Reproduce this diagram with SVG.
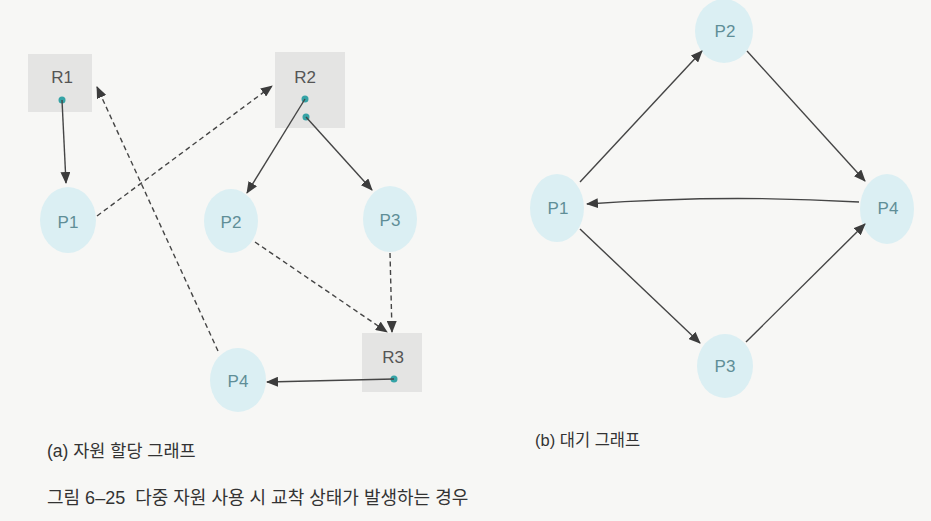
<svg xmlns="http://www.w3.org/2000/svg" width="931" height="521" viewBox="0 0 931 521">
<style>
.bg{fill:#f7f7f5}
.res{fill:#e4e4e3}
.proc{fill:#dbeff3}
.dot{fill:#35a3a6}
.rl{font-family:"Liberation Sans",Arial,sans-serif;font-size:17px;fill:#555;text-anchor:middle}
.pl{font-family:"Liberation Sans",Arial,sans-serif;font-size:17px;fill:#5f8e97;text-anchor:middle}
.cap{font-family:"Liberation Sans","Noto Sans CJK KR",sans-serif;font-size:17px;fill:#333}
.e{stroke:#454545;stroke-width:1.4;fill:none;marker-end:url(#ah)}
.d{stroke-dasharray:5,3.5}
</style>
<defs>
<marker id="ah" markerWidth="12" markerHeight="10" refX="11" refY="5" orient="auto" markerUnits="userSpaceOnUse">
<path d="M0,0 L12,5 L0,10 z" fill="#3c3c3c"/>
</marker>
</defs>
<rect class="bg" x="0" y="0" width="931" height="521"/>

<g id="R1"><rect class="res" x="28" y="54" width="64" height="58"/><text class="rl" x="62" y="83">R1</text><circle class="dot" cx="62" cy="100" r="3.5"/></g>
<g id="R2"><rect class="res" x="275" y="52" width="70" height="76"/><text class="rl" x="305" y="83">R2</text><circle class="dot" cx="305" cy="99" r="3.5"/><circle class="dot" cx="306" cy="117" r="3.5"/></g>
<g id="R3"><rect class="res" x="362" y="333" width="60" height="59"/><text class="rl" x="393" y="363">R3</text><circle class="dot" cx="394" cy="379" r="3.5"/></g>
<g id="P1a"><ellipse class="proc" cx="68" cy="220" rx="28" ry="33"/><text class="pl" x="68" y="228">P1</text></g>
<g id="P2a"><ellipse class="proc" cx="231" cy="221" rx="27" ry="32"/><text class="pl" x="231" y="228">P2</text></g>
<g id="P3a"><ellipse class="proc" cx="390" cy="219" rx="27" ry="33"/><text class="pl" x="390" y="226">P3</text></g>
<g id="P4a"><ellipse class="proc" cx="238" cy="380" rx="28" ry="32"/><text class="pl" x="238" y="387">P4</text></g>

<g id="P1b"><ellipse class="proc" cx="557" cy="208" rx="27" ry="34"/><text class="pl" x="558" y="214">P1</text></g>
<g id="P2b"><ellipse class="proc" cx="724" cy="31" rx="29" ry="32"/><text class="pl" x="725" y="37">P2</text></g>
<g id="P3b"><ellipse class="proc" cx="725" cy="366" rx="28" ry="32"/><text class="pl" x="725" y="372">P3</text></g>
<g id="P4b"><ellipse class="proc" cx="887" cy="209" rx="27" ry="35"/><text class="pl" x="888" y="214">P4</text></g>

<g id="connectors">
<line class="e" x1="62" y1="100" x2="66" y2="183"/>
<line class="e d" x1="97" y1="216" x2="272" y2="86"/>
<line class="e d" x1="218" y1="351" x2="97" y2="87"/>
<line class="e" x1="305" y1="99" x2="247" y2="193"/>
<line class="e" x1="306" y1="117" x2="372" y2="190"/>
<line class="e d" x1="255" y1="242" x2="387" y2="332"/>
<line class="e d" x1="390" y1="253" x2="392" y2="332"/>
<line class="e" x1="394" y1="379" x2="267" y2="382"/>

<line class="e" x1="580" y1="182" x2="702" y2="51"/>
<line class="e" x1="747" y1="51" x2="865" y2="181"/>
<line class="e" x1="580" y1="229" x2="700" y2="343"/>
<line class="e" x1="746" y1="342" x2="865" y2="224"/>
<path class="e" d="M859,202 Q722,194 587,204"/>
</g>

<text class="cap" x="47" y="457" style="font-size:17.5px">(a) 자원 할당 그래프</text>
<text class="cap" x="535" y="446" style="font-size:16.5px">(b) 대기 그래프</text>
<text class="cap" x="47" y="504" style="font-size:18px" xml:space="preserve">그림 6–25  다중 자원 사용 시 교착 상태가 발생하는 경우</text>
</svg>
